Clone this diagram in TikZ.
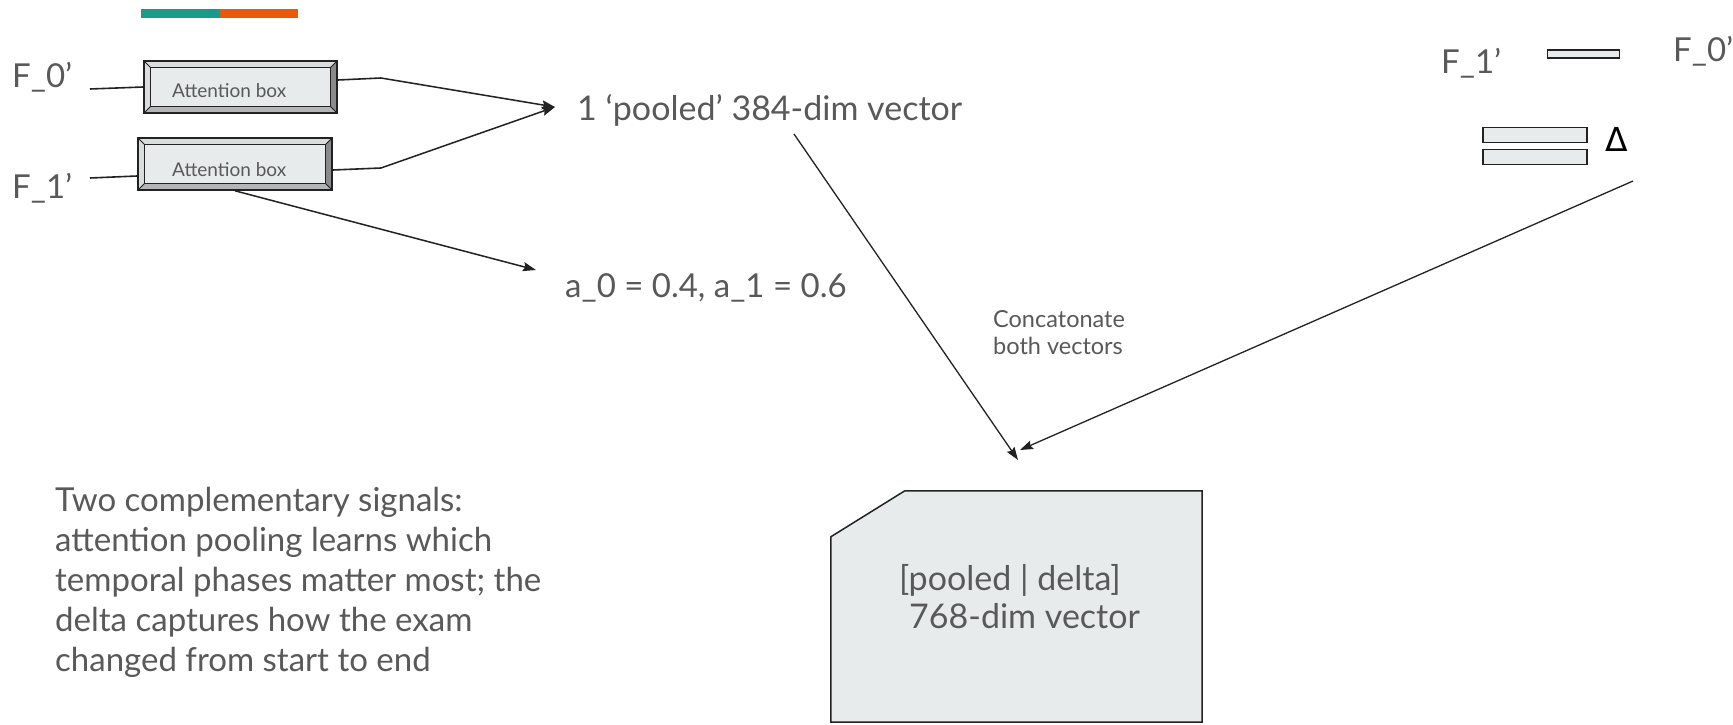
\documentclass[tikz,border=0pt]{standalone}
\usepackage{fontspec}
\setmainfont{Lato}
\newfontfamily\symfont{DejaVu Sans}
\usetikzlibrary{arrows.meta}
\definecolor{txt}{HTML}{595959}
\definecolor{edge}{HTML}{222222}
\definecolor{boxfill}{HTML}{E8EBEC}
\definecolor{bevlight}{HTML}{DADDDE}
\definecolor{bevmid}{HTML}{B3B5B6}
\definecolor{bevdark}{HTML}{8A8A8A}
\definecolor{teal}{HTML}{1B998B}
\definecolor{orng}{HTML}{EA580C}
\tikzset{
  bigtext/.style={font=\fontsize{33}{40}\selectfont, text=txt, inner sep=0pt, anchor=base west},
  midtext/.style={font=\fontsize{34}{40}\selectfont, text=txt, inner sep=0pt, anchor=base west},
  smalltext/.style={font=\fontsize{23.5}{28}\selectfont, text=txt, inner sep=0pt, anchor=base west},
  attlabel/.style={font=\fontsize{19}{23}\selectfont, text=txt, inner sep=0pt, anchor=base west},
  conn/.style={draw=edge, line width=1.6pt},
  arr/.style={draw=edge, line width=1.5pt, -{Stealth[length=13pt,width=9pt,inset=2pt]}},
  flatbar/.style={draw=edge, line width=1.4pt, fill=boxfill, inner sep=0pt},
  attbox/.style={draw=edge, line width=1.6pt, fill=boxfill, inner sep=0pt,
    path picture={
      \fill[bevlight] (path picture bounding box.north west) -- (path picture bounding box.north east)
        -- ([shift={(-6.5pt,-6.5pt)}]path picture bounding box.north east)
        -- ([shift={(6.5pt,-6.5pt)}]path picture bounding box.north west) -- cycle;
      \fill[bevlight] (path picture bounding box.north west) -- ([shift={(6.5pt,-6.5pt)}]path picture bounding box.north west)
        -- ([shift={(6.5pt,6.5pt)}]path picture bounding box.south west) -- (path picture bounding box.south west) -- cycle;
      \fill[bevmid] (path picture bounding box.south west) -- ([shift={(6.5pt,6.5pt)}]path picture bounding box.south west)
        -- ([shift={(-6.5pt,6.5pt)}]path picture bounding box.south east) -- (path picture bounding box.south east) -- cycle;
      \fill[bevdark] (path picture bounding box.south east) -- ([shift={(-6.5pt,6.5pt)}]path picture bounding box.south east)
        -- ([shift={(-6.5pt,-6.5pt)}]path picture bounding box.north east) -- (path picture bounding box.north east) -- cycle;
      \draw[edge, line width=0.8pt] (path picture bounding box.north west) -- ([shift={(6.5pt,-6.5pt)}]path picture bounding box.north west);
      \draw[edge, line width=0.8pt] (path picture bounding box.north east) -- ([shift={(-6.5pt,-6.5pt)}]path picture bounding box.north east);
      \draw[edge, line width=0.8pt] (path picture bounding box.south west) -- ([shift={(6.5pt,6.5pt)}]path picture bounding box.south west);
      \draw[edge, line width=0.8pt] (path picture bounding box.south east) -- ([shift={(-6.5pt,6.5pt)}]path picture bounding box.south east);
      \draw[edge, line width=1.4pt] ([shift={(6.5pt,-6.5pt)}]path picture bounding box.north west) rectangle ([shift={(-6.5pt,6.5pt)}]path picture bounding box.south east);
    }},
}
\begin{document}
\begin{tikzpicture}[x=1pt,y=-1pt]
\clip (0,0) rectangle (1733,725);
\fill[white] (0,0) rectangle (1733,725);

% top colour bar
\fill[teal] (141,9) rectangle (220,18);
\fill[orng] (220,9) rectangle (298,18);

% left inputs
\node[bigtext] (f0) at (12,88) {F\_0’};
\node[bigtext] (f1) at (12,198) {F\_1’};
\coordinate (f0out) at (90,89);
\coordinate (f1out) at (90,178);

% attention boxes
\node[attbox, minimum width=193pt, minimum height=52pt] (att0) at (240.5,87) {};
\node[attbox, minimum width=194pt, minimum height=52pt] (att1) at (235,164) {};
\node[attlabel] (att0l) at (172,97) {Attention box};
\node[attlabel] (att1l) at (172,176) {Attention box};

\draw[conn] (f0out) -- (att0.west);
\draw[conn] (f1out) -- ([yshift=-12pt]att1.west);

% outputs
\node[midtext] (pooled) at (577,120) {1 ‘pooled’ 384-dim vector};
\node[bigtext] (alpha) at (565,297) {a\_0 = 0.4, a\_1 = 0.6};
\coordinate (pooledin) at (555,107);
\coordinate (alphain) at (536,270);
\coordinate (bend0) at (381,78);
\coordinate (bend1) at (381,168);

\draw[conn] ([yshift=7pt]att0.east) -- (bend0);
\draw[arr] (bend0) -- (pooledin);
\draw[conn] ([yshift=-6pt]att1.east) -- (bend1);
\draw[arr] (bend1) -- (pooledin);
\draw[arr] (att1.south) -- (alphain);

% right side: delta
\node[bigtext] (rf1) at (1441,74) {F\_1’};
\node[bigtext] (rf0) at (1673,62) {F\_0’};
\node[flatbar, minimum width=72pt, minimum height=8pt] (rbar) at (1583.5,54) {};
\node[flatbar, minimum width=104pt, minimum height=15pt] (dbar0) at (1535,135) {};
\node[flatbar, minimum width=104pt, minimum height=15pt] (dbar1) at (1535,157) {};
\node[font=\symfont\fontsize{33}{40}\selectfont, text=black, inner sep=0pt, anchor=base west] (delta) at (1605,151) {Δ};
\coordinate (dout) at (1633,181);

% concatenated vector
\coordinate (pooledout) at (794,134);
\coordinate (cin1) at (1018,460);
\coordinate (cin2) at (1020,450);
\draw[arr, line width=1.3pt] (pooledout) -- (cin1);
\draw[arr, line width=1.3pt] (dout) -- (cin2);
\node[smalltext] (cc1) at (993,327) {Concatonate};
\node[smalltext] (cc2) at (993,354) {both vectors};

\node[minimum width=371pt, minimum height=231pt, inner sep=0pt] (cat) at (1016.5,606.5) {};
\draw[edge, line width=1.5pt, fill=boxfill] (cat.south west) -- (cat.south east) -- (cat.north east)
  -- ([xshift=74pt]cat.north west) -- ([yshift=-46pt]cat.north west) -- cycle;
\node[midtext] (catl1) at (899,590) {[pooled | delta]};
\node[midtext] (catl2) at (909,628) {768-dim vector};

% note
\node[bigtext, anchor=north west, align=left, font=\fontsize{33}{40}\selectfont] (note) at (55,487)
 {Two complementary signals:\\attention pooling learns which\\temporal phases matter most; the\\delta captures how the exam\\changed from start to end};
\end{tikzpicture}
\end{document}
